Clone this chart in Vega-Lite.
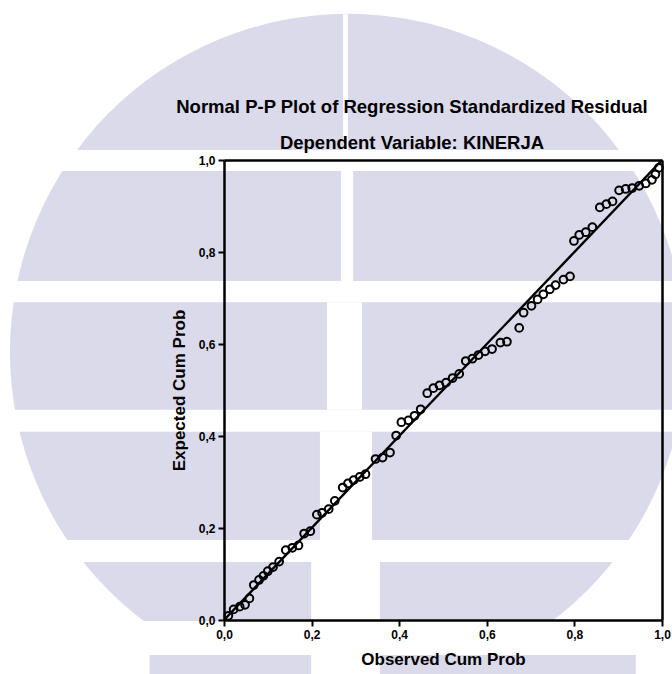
{
  "$schema": "https://vega.github.io/schema/vega-lite/v6.json",
  "width": 438,
  "height": 460,
  "autosize": "none",
  "padding": {"left": 224, "top": 160, "right": 10, "bottom": 54},
  "background": "white",
  "config": {
    "view": {"stroke": null},
    "font": "Liberation Sans",
    "axis": {"zindex": 2, "grid": false, "domainColor": "black", "domainWidth": 2.5, "tickColor": "black", "tickWidth": 2, "labelColor": "black", "titleColor": "black"}
  },
  "title": {
    "text": "Normal P-P Plot of Regression Standardized Residual",
    "subtitle": "Dependent Variable: KINERJA",
    "font": "Liberation Sans",
    "subtitleFont": "Liberation Sans",
    "fontSize": 18.5,
    "subtitleFontSize": 18.5,
    "fontWeight": "bold",
    "subtitleFontWeight": "bold",
    "color": "black",
    "subtitleColor": "black",
    "anchor": "middle",
    "frame": "group",
    "dx": -31,
    "dy": 139,
    "offset": 0,
    "subtitlePadding": 18,
    "zindex": 2
  },
  "datasets": {
    "pp": [
      {"obs": 0.010, "exp": 0.009}, {"obs": 0.022, "exp": 0.023}, {"obs": 0.036, "exp": 0.029}, {"obs": 0.048, "exp": 0.033},
      {"obs": 0.058, "exp": 0.047}, {"obs": 0.068, "exp": 0.076}, {"obs": 0.080, "exp": 0.087}, {"obs": 0.090, "exp": 0.096},
      {"obs": 0.100, "exp": 0.106}, {"obs": 0.112, "exp": 0.115}, {"obs": 0.126, "exp": 0.127}, {"obs": 0.141, "exp": 0.152},
      {"obs": 0.156, "exp": 0.157}, {"obs": 0.170, "exp": 0.162}, {"obs": 0.183, "exp": 0.188}, {"obs": 0.197, "exp": 0.193},
      {"obs": 0.212, "exp": 0.229}, {"obs": 0.224, "exp": 0.233}, {"obs": 0.239, "exp": 0.241}, {"obs": 0.253, "exp": 0.259},
      {"obs": 0.271, "exp": 0.288}, {"obs": 0.283, "exp": 0.297}, {"obs": 0.296, "exp": 0.304}, {"obs": 0.310, "exp": 0.311},
      {"obs": 0.323, "exp": 0.317}, {"obs": 0.346, "exp": 0.350}, {"obs": 0.362, "exp": 0.353}, {"obs": 0.379, "exp": 0.364},
      {"obs": 0.393, "exp": 0.401}, {"obs": 0.405, "exp": 0.430}, {"obs": 0.421, "exp": 0.434}, {"obs": 0.435, "exp": 0.444},
      {"obs": 0.449, "exp": 0.458}, {"obs": 0.464, "exp": 0.493}, {"obs": 0.478, "exp": 0.504}, {"obs": 0.492, "exp": 0.510},
      {"obs": 0.507, "exp": 0.516}, {"obs": 0.522, "exp": 0.526}, {"obs": 0.537, "exp": 0.535}, {"obs": 0.552, "exp": 0.563},
      {"obs": 0.567, "exp": 0.568}, {"obs": 0.581, "exp": 0.576}, {"obs": 0.596, "exp": 0.584}, {"obs": 0.612, "exp": 0.589},
      {"obs": 0.631, "exp": 0.603}, {"obs": 0.646, "exp": 0.605}, {"obs": 0.674, "exp": 0.635}, {"obs": 0.684, "exp": 0.668},
      {"obs": 0.702, "exp": 0.683}, {"obs": 0.716, "exp": 0.697}, {"obs": 0.729, "exp": 0.708}, {"obs": 0.744, "exp": 0.719},
      {"obs": 0.757, "exp": 0.728}, {"obs": 0.775, "exp": 0.740}, {"obs": 0.790, "exp": 0.747}, {"obs": 0.799, "exp": 0.824},
      {"obs": 0.811, "exp": 0.837}, {"obs": 0.826, "exp": 0.843}, {"obs": 0.841, "exp": 0.854}, {"obs": 0.858, "exp": 0.897},
      {"obs": 0.873, "exp": 0.904}, {"obs": 0.887, "exp": 0.910}, {"obs": 0.902, "exp": 0.934}, {"obs": 0.917, "exp": 0.937},
      {"obs": 0.932, "exp": 0.939}, {"obs": 0.948, "exp": 0.944}, {"obs": 0.963, "exp": 0.949}, {"obs": 0.977, "exp": 0.957},
      {"obs": 0.985, "exp": 0.969}, {"obs": 0.993, "exp": 0.983}
    ],
    "diag": [{"obs": 0, "exp": 0}, {"obs": 1, "exp": 1}],
    "watermark": [{"obs": 0.283, "exp": 0.583}],
    "bars": [{"x1": -0.17, "x2": 0.94, "y1": -0.2, "y2": -0.076}],
    "stripes": [
      {"x1": -1, "x2": 2, "y1": 0.976, "y2": 1.022},
      {"x1": -1, "x2": 2, "y1": 0.691, "y2": 0.737},
      {"x1": -1, "x2": 2, "y1": 0.409, "y2": 0.457},
      {"x1": -1, "x2": 2, "y1": 0.126, "y2": 0.174},
      {"x1": -1, "x2": 2, "y1": -0.076, "y2": -0.002},
      {"x1": 0.272, "x2": 0.283, "y1": 1.022, "y2": 1.317},
      {"x1": 0.267, "x2": 0.295, "y1": 0.737, "y2": 0.976},
      {"x1": 0.235, "x2": 0.315, "y1": 0.457, "y2": 0.691},
      {"x1": 0.219, "x2": 0.338, "y1": 0.174, "y2": 0.409},
      {"x1": 0.199, "x2": 0.356, "y1": -0.2, "y2": 0.126}
    ]
  },
  "resolve": {"axis": {"x": "independent", "y": "independent"}},
  "layer": [
    {
      "data": {"name": "watermark"},
      "mark": {"type": "point", "shape": "circle", "filled": true, "color": "#dadaeb", "opacity": 1, "size": 456976, "strokeWidth": 0},
      "encoding": {
        "x": {"field": "obs", "type": "quantitative", "scale": {"domain": [0, 1], "nice": false},
          "axis": {"orient": "bottom", "zindex": 2, "values": [0, 0.2, 0.4, 0.6, 0.8, 1], "labelExpr": "replace(format(datum.value, '.1f'), '.', ',')",
            "tickSize": 6, "labelFontSize": 12, "labelFontWeight": "bold", "labelPadding": 3, "labelFlush": false,
            "title": "Observed Cum Prob", "titleFontSize": 17, "titleFontWeight": "bold", "titlePadding": 11}},
        "y": {"field": "exp", "type": "quantitative", "scale": {"domain": [0, 1], "nice": false},
          "axis": {"orient": "left", "zindex": 2, "values": [0, 0.2, 0.4, 0.6, 0.8, 1], "labelExpr": "replace(format(datum.value, '.1f'), '.', ',')",
            "tickSize": 6, "labelFontSize": 12, "labelFontWeight": "bold", "labelPadding": 3, "labelFlush": false,
            "title": "Expected Cum Prob", "titleFontSize": 17, "titleFontWeight": "bold", "titlePadding": 10}}
      }
    },
    {
      "data": {"name": "bars"},
      "mark": {"type": "rect", "color": "#dadaeb"},
      "encoding": {
        "x": {"field": "x1", "type": "quantitative", "axis": null},
        "x2": {"field": "x2"},
        "y": {"field": "y1", "type": "quantitative", "axis": null},
        "y2": {"field": "y2"}
      }
    },
    {
      "data": {"name": "stripes"},
      "mark": {"type": "rect", "color": "white"},
      "encoding": {
        "x": {"field": "x1", "type": "quantitative", "scale": {"domain": [0, 1], "nice": false},
          "axis": {"orient": "top", "zindex": 2, "labels": false, "ticks": false, "title": null}},
        "x2": {"field": "x2"},
        "y": {"field": "y1", "type": "quantitative", "scale": {"domain": [0, 1], "nice": false},
          "axis": {"orient": "right", "zindex": 2, "labels": false, "ticks": false, "title": null}},
        "y2": {"field": "y2"}
      }
    },
    {
      "data": {"name": "diag"},
      "mark": {"type": "line", "color": "black", "strokeWidth": 2.4},
      "encoding": {
        "x": {"field": "obs", "type": "quantitative", "axis": null},
        "y": {"field": "exp", "type": "quantitative", "axis": null}
      }
    },
    {
      "data": {"name": "pp"},
      "mark": {"type": "point", "shape": "circle", "filled": false, "color": "black", "size": 60, "strokeWidth": 2, "opacity": 1},
      "encoding": {
        "x": {"field": "obs", "type": "quantitative", "axis": null},
        "y": {"field": "exp", "type": "quantitative", "axis": null}
      }
    }
  ]
}
